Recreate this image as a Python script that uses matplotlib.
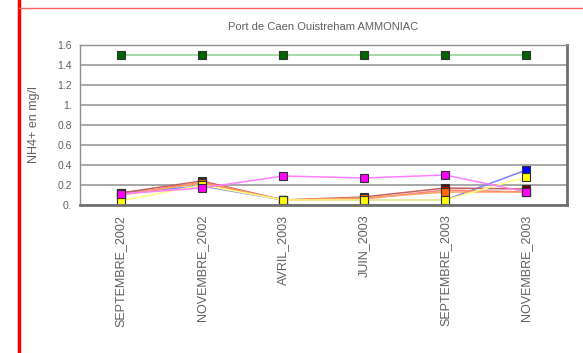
import numpy as np
import matplotlib as mpl
mpl.use('Agg')
import matplotlib.pyplot as plt
from matplotlib.lines import Line2D

plt.rcParams['font.family'] = ['Liberation Sans', 'DejaVu Sans']

months = ['SEPTEMBRE_2002', 'NOVEMBRE_2002', 'AVRIL_2003', 'JUIN_2003',
          'SEPTEMBRE_2003', 'NOVEMBRE_2003']
y_ticks = [0, 0.2, 0.4, 0.6, 0.8, 1.0, 1.2, 1.4, 1.6]
y_labels = ['0.', '0.2', '0.4', '0.6', '0.8', '1.', '1.2', '1.4', '1.6']

green = [1.5, 1.5, 1.5, 1.5, 1.5, 1.5]
blue = [0.12, 0.19, 0.05, 0.05, 0.05, 0.35]
darkred = [0.12, 0.24, 0.05, 0.08, 0.17, 0.16]
red = [0.10, 0.23, 0.05, 0.06, 0.15, 0.13]
orange = [0.10, 0.22, 0.05, 0.07, 0.13, 0.13]
yellow = [0.04, 0.20, 0.05, 0.05, 0.05, 0.28]
magenta = [0.11, 0.17, 0.29, 0.27, 0.30, 0.13]

# (values, line colour, marker colour)
series = [
    (green, '#90d090', '#006400'),
    (blue, '#8080ff', '#0000ff'),
    (darkred, '#c06060', '#700000'),
    (red, '#ff8080', '#e00000'),
    (orange, '#ffa060', '#ff6600'),
    (yellow, '#ffff80', '#ffff00'),
    (magenta, '#ff80ff', '#ff00ff'),
]

fig = plt.figure(figsize=(5.83, 3.53), dpi=100)
ax = fig.add_axes([80/583, 1 - 205/353, 487/583, 160/353])

x = np.arange(len(months))
for vals, lc, mc in series:
    ax.plot(x, vals, color=lc, lw=1.1, marker='s', markersize=6,
            markerfacecolor=mc, markeredgecolor='#303030', markeredgewidth=0.8)

ax.set_xlim(-0.5, len(months) - 0.5)
ax.set_ylim(0, 1.6)
ax.set_yticks(y_ticks)
ax.set_yticklabels(y_labels, fontsize=7.5)
ax.set_xticks(x)
ax.set_xticklabels(months, rotation=90, fontsize=9)
ax.tick_params(axis='both', length=0, labelcolor='#606060')
ax.tick_params(axis='x', pad=7)
ax.tick_params(axis='y', pad=6)
ax.grid(axis='y', color='#a0a0a0', lw=1.3)
ax.set_axisbelow(True)

for side in ['left', 'top']:
    ax.spines[side].set_color('#909090')
    ax.spines[side].set_linewidth(1.0)
for side in ['right', 'bottom']:
    ax.spines[side].set_color('#707070')
    ax.spines[side].set_linewidth(2.0)

ax.set_title('Port de Caen Ouistreham AMMONIAC', fontsize=8, color='#606060', pad=11)
ax.set_ylabel('NH4+ en mg/l', fontsize=9, color='#606060', labelpad=12)

# red frame lines of the page
fig.add_artist(Line2D([19/583, 19/583], [0, 1], color='red', lw=2.5))
fig.add_artist(Line2D([19/583, 1], [1 - 8/353, 1 - 8/353], color='#ff6060', lw=1.0))

fig.savefig('out.png', dpi=100)
